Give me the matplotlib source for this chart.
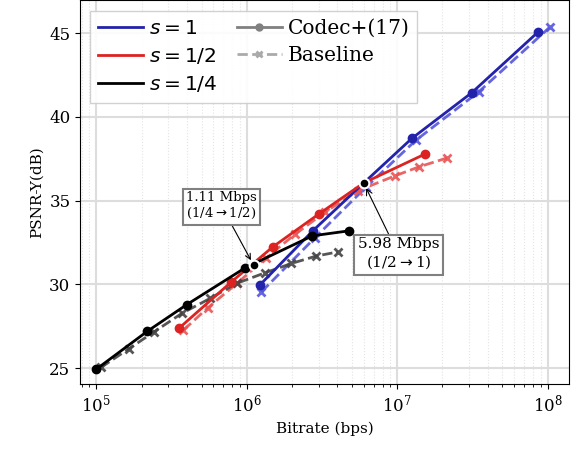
import numpy as np
import matplotlib
matplotlib.use("Agg")
import matplotlib.pyplot as plt

plt.rcParams["font.family"] = "serif"
plt.rcParams["font.serif"] = ["DejaVu Serif"]
plt.rcParams["mathtext.fontset"] = "dejavusans"

# Codec+ curves (bitrate in bps, PSNR-Y in dB)
s1_rate = [1.22e6, 2.75e6, 6.0e6, 1.25e7, 3.13e7, 8.63e7]
s1_psnr = [29.96, 33.2, 36.06, 38.71, 41.44, 45.06]
s2_rate = [3.55e5, 7.9e5, 1.49e6, 3.0e6, 6.0e6, 1.53e7]
s2_psnr = [27.39, 30.15, 32.24, 34.19, 36.06, 37.78]
s4_rate = [1.0e5, 2.18e5, 4.0e5, 9.8e5, 2.73e6, 4.8e6]
s4_psnr = [24.94, 27.2, 28.8, 31.0, 32.9, 33.2]

# Baseline curves
b1_rate = [1.25e6, 2.85e6, 6.2e6, 1.33e7, 3.49e7, 1.03e8]
b1_psnr = [29.55, 32.8, 35.8, 38.6, 41.5, 45.34]
b2_rate = [3.79e5, 5.5e5, 8.6e5, 1.35e6, 2.1e6, 3.3e6, 5.5e6, 9.6e6, 1.4e7, 2.15e7]
b2_psnr = [27.27, 28.6, 30.06, 31.6, 33.0, 34.3, 35.6, 36.47, 37.02, 37.55]
b4_rate = [1.07e5, 1.64e5, 2.42e5, 3.7e5, 5.69e5, 8.55e5, 1.32e6, 1.98e6, 2.89e6, 4.03e6]
b4_psnr = [25.04, 26.15, 27.17, 28.27, 29.16, 30.06, 30.69, 31.25, 31.69, 31.94]

# switch points
sw_rate = [1.11e6, 5.98e6]
sw_psnr = [31.15, 36.06]
sw_text = ["1.11 Mbps\n(1/4$\\rightarrow$1/2)", "5.98 Mbps\n(1/2$\\rightarrow$1)"]

c_blue, c_red, c_black = "#2222aa", "#dd2222", "black"

fig, ax = plt.subplots(figsize=(5.85, 4.54), dpi=100)
fig.subplots_adjust(left=0.137, right=0.972, top=0.999, bottom=0.154)

ax.plot(b1_rate, b1_psnr, "--x", color="#5555dd", lw=2, ms=6, mew=2, alpha=0.9)
ax.plot(b2_rate, b2_psnr, "--x", color="#e85555", lw=2, ms=6, mew=2, alpha=0.9)
ax.plot(b4_rate, b4_psnr, "--x", color="#444444", lw=2, ms=6, mew=2, alpha=0.9)

ax.plot(s1_rate, s1_psnr, "-o", color=c_blue, lw=2, ms=6)
ax.plot(s2_rate, s2_psnr, "-o", color=c_red, lw=2, ms=6)
ax.plot(s4_rate, s4_psnr, "-o", color=c_black, lw=2, ms=6)

ax.plot(sw_rate, sw_psnr, "o", color="black", mec="white", mew=1.5, ms=7, ls="none", zorder=5)

box = dict(boxstyle="square,pad=0.25", fc="white", ec="gray", lw=1.5)
ax.annotate(sw_text[0], xy=(sw_rate[0], sw_psnr[0]), xytext=(6.8e5, 34.67),
            ha="center", va="center", fontsize=9.5, bbox=box,
            arrowprops=dict(arrowstyle="->", color="black", lw=0.8,
                            shrinkA=0, shrinkB=4))
ax.annotate(sw_text[1], xy=(sw_rate[1], sw_psnr[1]), xytext=(1.02e7, 31.8),
            ha="center", va="center", fontsize=11, bbox=box,
            arrowprops=dict(arrowstyle="->", color="black", lw=0.8,
                            shrinkA=0, shrinkB=4))

ax.set_xscale("log")
ax.set_xlim(7.8e4, 1.38e8)
ax.set_ylim(24.05, 46.95)
ax.set_yticks([25, 30, 35, 40, 45])
ax.grid(True, which="major", color="#dddddd", lw=1.5)
ax.grid(True, which="minor", axis="x", color="#e4e4e4", lw=0.8, ls=":")
ax.set_axisbelow(True)
ax.tick_params(labelsize=12)
ax.set_xlabel("Bitrate (bps)", fontsize=11)
ax.set_ylabel("PSNR-Y(dB)", fontsize=11)

handles = [
    plt.Line2D([], [], color=c_blue, lw=2),
    plt.Line2D([], [], color=c_red, lw=2),
    plt.Line2D([], [], color=c_black, lw=2),
    plt.Line2D([], [], color="gray", lw=2, marker="o", ms=5),
    plt.Line2D([], [], color="#aaaaaa", lw=2, ls="--", marker="x", ms=5, mew=2),
]
labels = ["$s = 1$", "$s = 1/2$", "$s = 1/4$", "Codec+(17)", "Baseline"]
ax.legend(handles, labels, ncol=2, loc="upper left", fontsize=14.5,
          fancybox=False, edgecolor="#cccccc", framealpha=0.9,
          handlelength=2.2, columnspacing=1.0, borderaxespad=0.5,
          handletextpad=0.3, labelspacing=0.42)

plt.savefig("out.png", dpi=100)
